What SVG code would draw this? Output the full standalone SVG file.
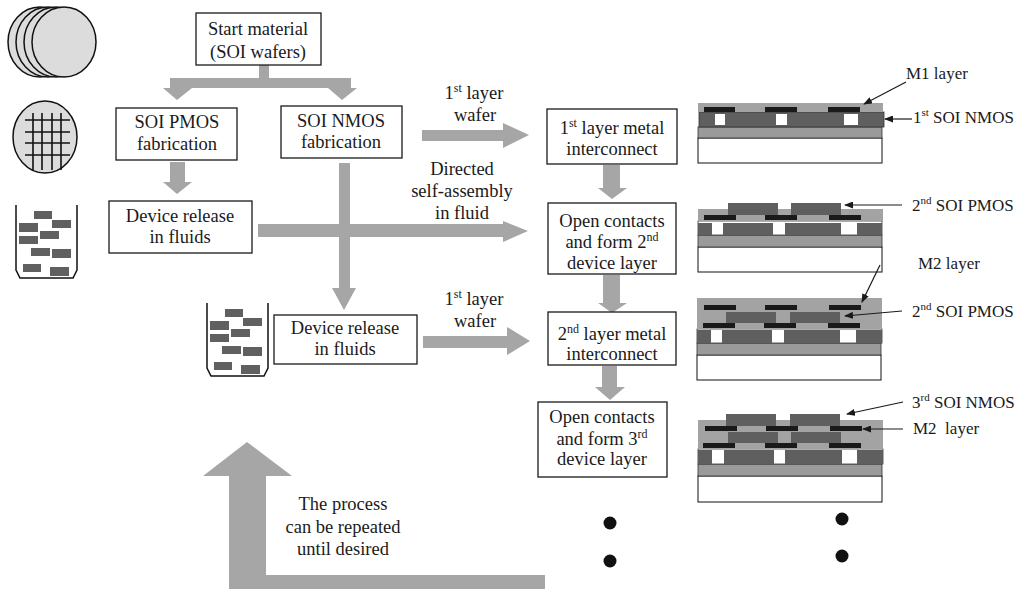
<svg xmlns="http://www.w3.org/2000/svg" width="1035" height="589" viewBox="0 0 1035 589">
  <style>
    .box { fill: #ffffff; stroke: #1a1a1a; stroke-width: 1.3; }
    .t { font-family: "Liberation Serif", "Times New Roman", serif; font-size: 18.5px; fill: #1a1a1a; text-anchor: middle; }
    .lab { font-family: "Liberation Serif", "Times New Roman", serif; font-size: 17px; fill: #1a1a1a; }
    .flow { fill: #a6a6a6; }
    .wafer { fill: #dcdcdc; stroke: #111; stroke-width: 1.5; }
    .grid { stroke: #111; stroke-width: 1.6; }
    .beaker { fill: none; stroke: #111; stroke-width: 1.5; }
    .chip { fill: #606060; }
    .sub { fill: #ffffff; stroke: #111; stroke-width: 1; }
    .ox { fill: #9a9a9a; stroke: #333; stroke-width: 0.8; }
    .fill { fill: #a3a3a3; }
    .dev { fill: #5f5f5f; }
    .row { fill: #ffffff; stroke: #333; stroke-width: 0.8; }
    .metal { fill: #1a1a1a; }
    .lead { stroke: #1a1a1a; stroke-width: 1.2; fill: none; marker-end: url(#head); }
    .dot { fill: #111; }
  </style>
  <defs>
    <marker id="head" markerWidth="9" markerHeight="7" refX="8" refY="3.5" orient="auto" markerUnits="userSpaceOnUse">
      <path d="M0,0 L9,3.5 L0,7 Z" fill="#1a1a1a"/>
    </marker>
    <g id="chips">
      <rect class="chip" x="34" y="211" width="18" height="8"/>
      <rect class="chip" x="52" y="220" width="19" height="8"/>
      <rect class="chip" x="19" y="223" width="19" height="9"/>
      <rect class="chip" x="40" y="231" width="19" height="8"/>
      <rect class="chip" x="19" y="236" width="19" height="8"/>
      <rect class="chip" x="31" y="248" width="19" height="8"/>
      <rect class="chip" x="52" y="249" width="19" height="9"/>
      <rect class="chip" x="23" y="264" width="18" height="8"/>
      <rect class="chip" x="50" y="267" width="19" height="9"/>
      <path class="beaker" d="M16,205 L16,270 L20,278 L73,278 L77,270 L77,205"/>
    </g>
  </defs>

  <!-- side icons: wafer stack, diced wafer, beakers with released devices -->
  <g id="icon-wafers">
    <ellipse class="wafer" cx="40" cy="42" rx="32" ry="35"/>
    <ellipse class="wafer" cx="48" cy="42" rx="32" ry="35"/>
    <ellipse class="wafer" cx="56" cy="42" rx="32" ry="35"/>
    <ellipse class="wafer" cx="64" cy="42" rx="32" ry="35"/>
  </g>
  <g id="icon-diced">
    <ellipse class="wafer" cx="45" cy="137" rx="32" ry="36"/>
    <path class="grid" d="M33,113 V170 M42,113 V170 M52,113 V170 M61,113 V170 M25,120 H70 M25,132 H70 M25,143 H70 M25,155 H70"/>
  </g>
  <g id="icon-beaker-1">
    <use href="#chips"/>
  </g>
  <g id="icon-beaker-2">
    <use href="#chips" transform="translate(191,98)"/>
  </g>

  <!-- connectors -->
  <g id="connectors">
    <!-- split from start material -->
    <rect class="flow" x="259" y="64" width="10" height="15"/>
    <rect class="flow" x="170" y="78" width="181" height="10"/>
    <polygon class="flow" points="163,88 192,88 177,100"/>
    <polygon class="flow" points="328,88 357,88 342,100"/>
    <!-- PMOS to release -->
    <rect class="flow" x="170" y="162" width="15" height="20"/>
    <polygon class="flow" points="163,182 192,182 177,194"/>
    <!-- NMOS down to second release -->
    <rect class="flow" x="339" y="163" width="11" height="125"/>
    <polygon class="flow" points="332,288 356,288 344,310"/>
    <!-- directed self-assembly -->
    <rect class="flow" x="258" y="224" width="246" height="13"/>
    <polygon class="flow" points="503,221 503,242 528,231"/>
    <!-- 1st layer wafer (top) -->
    <rect class="flow" x="422" y="130" width="82" height="11"/>
    <polygon class="flow" points="503,123 503,148 529,135"/>
    <!-- 1st layer wafer (lower) -->
    <rect class="flow" x="423" y="336" width="85" height="12"/>
    <polygon class="flow" points="507,327 507,355 530,341"/>
    <!-- right column steps -->
    <rect class="flow" x="603" y="165" width="17" height="23"/>
    <polygon class="flow" points="598,188 627,188 612,199"/>
    <rect class="flow" x="603" y="275" width="17" height="28"/>
    <polygon class="flow" points="598,303 627,303 612,313"/>
    <rect class="flow" x="602" y="366" width="15" height="21"/>
    <polygon class="flow" points="595,387 625,387 610,400"/>
    <!-- repeat loop -->
    <polygon class="flow" points="229,589 229,476 203,476 247,442 292,476 266,476 266,575 545,575 545,589"/>

    <text class="t" x="474" y="99">1<tspan font-size="12" dy="-7">st</tspan><tspan dy="7"> layer</tspan></text>
    <text class="t" x="475" y="121">wafer</text>
    <text class="t" x="462" y="175">Directed</text>
    <text class="t" x="462" y="197">self-assembly</text>
    <text class="t" x="462" y="219">in fluid</text>
    <text class="t" x="474" y="305">1<tspan font-size="12" dy="-7">st</tspan><tspan dy="7"> layer</tspan></text>
    <text class="t" x="475" y="327">wafer</text>
    <text class="t" x="343" y="510">The process</text>
    <text class="t" x="343" y="533">can be repeated</text>
    <text class="t" x="343" y="555">until desired</text>

    <circle class="dot" cx="610" cy="523" r="6.5"/>
    <circle class="dot" cx="610" cy="561" r="6.5"/>
    <circle class="dot" cx="842" cy="519" r="6.5"/>
    <circle class="dot" cx="842" cy="556" r="6.5"/>
  </g>

  <!-- process step boxes -->
  <g id="start">
    <rect class="box" x="196" y="13" width="125" height="52"/>
    <text class="t" x="258" y="35">Start material</text>
    <text class="t" x="258" y="58">(SOI wafers)</text>
  </g>
  <g id="pmos-fab">
    <rect class="box" x="116" y="108" width="121" height="52"/>
    <text class="t" x="177" y="128">SOI PMOS</text>
    <text class="t" x="177" y="150">fabrication</text>
  </g>
  <g id="nmos-fab">
    <rect class="box" x="281" y="106" width="121" height="52"/>
    <text class="t" x="341" y="127">SOI NMOS</text>
    <text class="t" x="341" y="148">fabrication</text>
  </g>
  <g id="release-1">
    <rect class="box" x="109" y="201" width="143" height="52"/>
    <text class="t" x="180" y="222">Device release</text>
    <text class="t" x="180" y="243">in fluids</text>
  </g>
  <g id="release-2">
    <rect class="box" x="274" y="315" width="143" height="49"/>
    <text class="t" x="345" y="334">Device release</text>
    <text class="t" x="345" y="355">in fluids</text>
  </g>
  <g id="metal-1">
    <rect class="box" x="547" y="109" width="130" height="55"/>
    <text class="t" x="612" y="134">1<tspan font-size="12" dy="-7">st</tspan><tspan dy="7"> layer metal</tspan></text>
    <text class="t" x="612" y="155">interconnect</text>
  </g>
  <g id="contacts-2">
    <rect class="box" x="548" y="203" width="128" height="71"/>
    <text class="t" x="612" y="227">Open contacts</text>
    <text class="t" x="612" y="248">and form 2<tspan font-size="12" dy="-7">nd</tspan></text>
    <text class="t" x="612" y="269">device layer</text>
  </g>
  <g id="metal-2">
    <rect class="box" x="548" y="312" width="128" height="53"/>
    <text class="t" x="612" y="340">2<tspan font-size="12" dy="-7">nd</tspan><tspan dy="7"> layer metal</tspan></text>
    <text class="t" x="612" y="360">interconnect</text>
  </g>
  <g id="contacts-3">
    <rect class="box" x="538" y="402" width="129" height="75"/>
    <text class="t" x="602" y="423">Open contacts</text>
    <text class="t" x="602" y="445">and form 3<tspan font-size="12" dy="-7">rd</tspan></text>
    <text class="t" x="602" y="465">device layer</text>
  </g>

  <!-- cross-section 1: first NMOS layer with M1 -->
  <g id="section-1">
    <rect class="sub" x="698" y="138" width="184" height="25"/>
    <rect class="ox" x="698" y="127" width="184" height="11"/>
    <rect class="dev" x="699" y="112" width="185" height="15" stroke="#333" stroke-width="0.8"/>
    <rect fill="#fff" x="715" y="114" width="10" height="11"/>
    <rect fill="#fff" x="776" y="114" width="11" height="11"/>
    <rect fill="#fff" x="844" y="114" width="14" height="11"/>
    <rect class="fill" x="698" y="103" width="185" height="9"/>
    <rect class="metal" x="704" y="107" width="31" height="5"/>
    <rect class="metal" x="765" y="107" width="32" height="5"/>
    <rect class="metal" x="828" y="107" width="32" height="5"/>
    <text class="lab" x="906" y="79">M1 layer</text>
    <path class="lead" d="M906,82 L864,104"/>
    <text class="lab" x="913" y="123">1<tspan font-size="11" dy="-7">st</tspan><tspan dy="7"> SOI NMOS</tspan></text>
    <path class="lead" d="M912,119 L885,119"/>
  </g>

  <!-- cross-section 2: PMOS assembled on top -->
  <g id="section-2">
    <rect class="sub" x="698" y="247" width="184" height="25"/>
    <rect class="ox" x="698" y="235" width="184" height="12"/>
    <rect class="row" x="698" y="221" width="184" height="14"/>
    <rect class="dev" x="698" y="223" width="14" height="12"/>
    <rect class="dev" x="723" y="223" width="50" height="12"/>
    <rect class="dev" x="785" y="223" width="56" height="12"/>
    <rect class="dev" x="857" y="223" width="25" height="12"/>
    <rect class="fill" x="698" y="209" width="185" height="12"/>
    <rect class="dev" x="728" y="203" width="50" height="12"/>
    <rect class="dev" x="791" y="203" width="50" height="12"/>
    <rect class="metal" x="704" y="215" width="32" height="5"/>
    <rect class="metal" x="765" y="215" width="32" height="5"/>
    <rect class="metal" x="829" y="215" width="32" height="5"/>
    <text class="lab" x="912" y="211">2<tspan font-size="11" dy="-7">nd</tspan><tspan dy="7"> SOI PMOS</tspan></text>
    <path class="lead" d="M902,205 L845,205"/>
  </g>

  <!-- cross-section 3: PMOS with M2 -->
  <g id="section-3">
    <rect class="sub" x="697" y="355" width="184" height="25"/>
    <rect class="ox" x="697" y="343" width="184" height="12"/>
    <rect class="row" x="697" y="329" width="185" height="14"/>
    <rect class="dev" x="697" y="330" width="14" height="13"/>
    <rect class="dev" x="722" y="330" width="50" height="13"/>
    <rect class="dev" x="784" y="330" width="56" height="13"/>
    <rect class="dev" x="856" y="330" width="26" height="13"/>
    <rect class="fill" x="697" y="298" width="185" height="31"/>
    <rect class="dev" x="726" y="312" width="50" height="11"/>
    <rect class="dev" x="790" y="312" width="50" height="11"/>
    <rect class="metal" x="704" y="305" width="32" height="5"/>
    <rect class="metal" x="765" y="305" width="32" height="5"/>
    <rect class="metal" x="829" y="305" width="32" height="5"/>
    <rect class="metal" x="703" y="323" width="32" height="5"/>
    <rect class="metal" x="764" y="323" width="32" height="5"/>
    <rect class="metal" x="828" y="323" width="32" height="5"/>
    <text class="lab" x="918" y="269">M2 layer</text>
    <path class="lead" d="M880,265 L862,302"/>
    <text class="lab" x="912" y="317">2<tspan font-size="11" dy="-7">nd</tspan><tspan dy="7"> SOI PMOS</tspan></text>
    <path class="lead" d="M902,311 L845,316"/>
  </g>

  <!-- cross-section 4: third NMOS layer -->
  <g id="section-4">
    <rect class="sub" x="698" y="476" width="184" height="26"/>
    <rect class="ox" x="698" y="464" width="184" height="12"/>
    <rect class="row" x="698" y="449" width="185" height="15"/>
    <rect class="dev" x="698" y="450" width="14" height="14"/>
    <rect class="dev" x="724" y="450" width="50" height="14"/>
    <rect class="dev" x="785" y="450" width="57" height="14"/>
    <rect class="dev" x="857" y="450" width="26" height="14"/>
    <rect class="fill" x="698" y="420" width="185" height="29"/>
    <rect class="dev" x="726" y="414" width="50" height="12"/>
    <rect class="dev" x="790" y="414" width="50" height="12"/>
    <rect class="metal" x="705" y="426" width="32" height="5"/>
    <rect class="metal" x="766" y="426" width="32" height="5"/>
    <rect class="metal" x="830" y="426" width="32" height="5"/>
    <rect class="dev" x="728" y="432" width="50" height="11"/>
    <rect class="dev" x="791" y="432" width="50" height="11"/>
    <rect class="metal" x="703" y="443" width="32" height="5"/>
    <rect class="metal" x="765" y="443" width="32" height="5"/>
    <rect class="metal" x="829" y="443" width="32" height="5"/>
    <text class="lab" x="912" y="408">3<tspan font-size="11" dy="-7">rd</tspan><tspan dy="7"> SOI NMOS</tspan></text>
    <path class="lead" d="M903,402 L847,414"/>
    <text class="lab" x="913" y="434" xml:space="preserve">M2  layer</text>
    <path class="lead" d="M903,429 L863,429"/>
  </g>
</svg>
